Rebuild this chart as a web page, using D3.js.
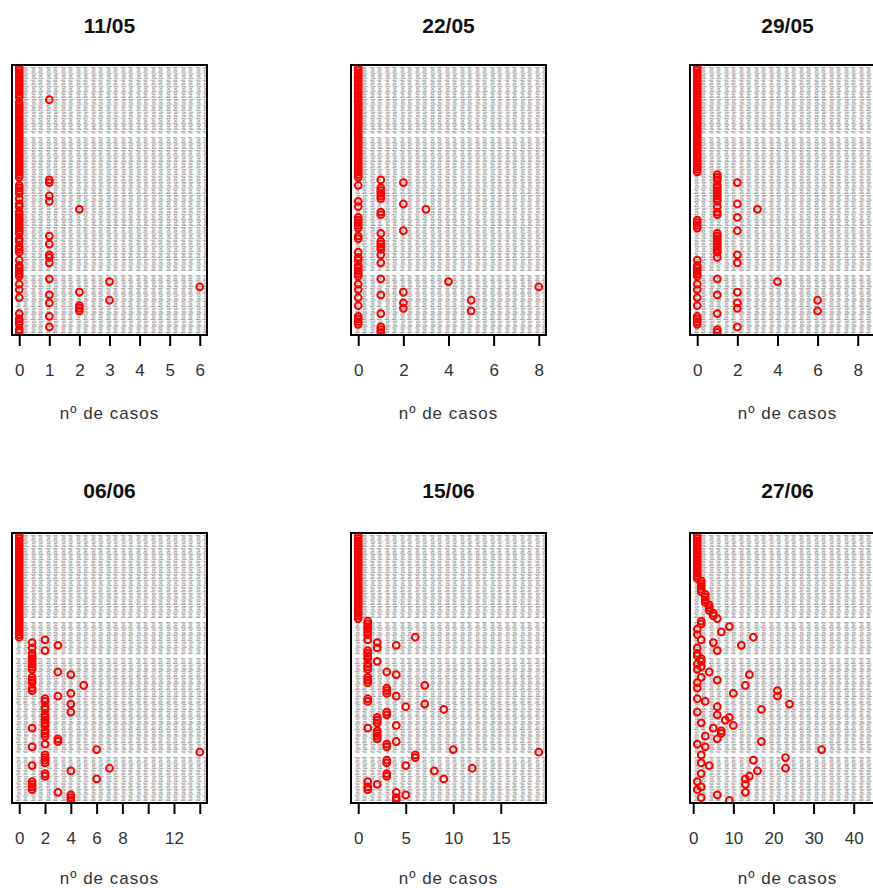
<!DOCTYPE html>
<html>
<head>
<meta charset="utf-8">
<script src="https://cdn.jsdelivr.net/npm/d3@7"></script>
<style>
    body { margin: 0; background: #ffffff; }
    text { font-family: "Liberation Sans", Arial, sans-serif; }
</style>
</head>
<body>
<div id="dotcharts"></div>
<script>
// one value per municipality (row), top row first
var titles = ["11/05", "22/05", "29/05", "06/06", "15/06", "27/06"];

var cases1105 = [
    0, 0, 0, 0, 0, 0, 0, 0, 0, 0,
    0, 0, 1, 0, 0, 0, 0, 0, 0, 0,
    0, 0, 0, 0, 0, 0, 0, 0, 0, 0,
    0, 0, 0, 0, 0, 0, 0, 0, 0, 0,
    0, 0, 1, 1, 0, 0, 0, 0, 1, 0,
    1, 0, 0, 2, 0, 0, 0, 0, 0, 0,
    0, 0, 0, 1, 0, 0, 1, 0, 0, 0,
    1, 1, 0, 1, 0, 0, 0, 0, 0, 1,
    3, 0, 6, 0, 2, 1, 0, 3, 1, 2,
    2, 2, 0, 1, 0, 0, 0, 1, 0, 0
];
var cases2205 = [
    0, 0, 0, 0, 0, 0, 0, 0, 0, 0,
    0, 0, 0, 0, 0, 0, 0, 0, 0, 0,
    0, 0, 0, 0, 0, 0, 0, 0, 0, 0,
    0, 0, 0, 0, 0, 0, 0, 0, 0, 0,
    0, 0, 1, 2, 0, 1, 1, 1, 1, 1,
    0, 2, 0, 3, 1, 1, 0, 0, 0, 0,
    0, 2, 1, 0, 0, 1, 1, 1, 1, 0,
    1, 0, 0, 1, 0, 0, 0, 0, 0, 1,
    4, 0, 8, 0, 2, 1, 0, 5, 2, 0,
    2, 5, 1, 0, 0, 0, 0, 1, 1, 1
];
var cases2905 = [
    0, 0, 0, 0, 0, 0, 0, 0, 0, 0,
    0, 0, 0, 0, 0, 0, 0, 0, 0, 0,
    0, 0, 0, 0, 0, 0, 0, 0, 0, 0,
    0, 0, 0, 0, 0, 0, 0, 0, 0, 0,
    1, 1, 1, 2, 1, 1, 1, 1, 1, 1,
    1, 2, 1, 3, 1, 1, 2, 0, 0, 0,
    0, 2, 1, 1, 1, 1, 1, 1, 1, 1,
    2, 1, 0, 2, 0, 0, 0, 0, 0, 1,
    4, 0, 9, 0, 2, 1, 0, 6, 2, 0,
    2, 6, 1, 0, 0, 0, 0, 2, 1, 1
];
var cases0606 = [
    0, 0, 0, 0, 0, 0, 0, 0, 0, 0,
    0, 0, 0, 0, 0, 0, 0, 0, 0, 0,
    0, 0, 0, 0, 0, 0, 0, 0, 0, 0,
    0, 0, 0, 0, 0, 0, 0, 0, 0, 2,
    1, 3, 1, 2, 1, 1, 1, 1, 1, 1,
    1, 3, 4, 1, 1, 1, 5, 1, 1, 4,
    3, 2, 2, 4, 2, 2, 4, 2, 2, 2,
    2, 2, 1, 2, 2, 2, 3, 3, 2, 1,
    6, 14, 2, 2, 2, 2, 1, 7, 4, 2,
    2, 6, 1, 1, 1, 1, 3, 4, 4, 4
];
var cases1506 = [
    0, 0, 0, 0, 0, 0, 0, 0, 0, 0,
    0, 0, 0, 0, 0, 0, 0, 0, 0, 0,
    0, 0, 0, 0, 0, 0, 0, 0, 0, 0,
    0, 0, 1, 1, 1, 1, 1, 1, 6, 1,
    2, 4, 2, 1, 1, 1, 1, 2, 1, 1,
    1, 3, 4, 1, 1, 1, 7, 3, 3, 3,
    4, 1, 1, 7, 5, 9, 3, 3, 2, 2,
    2, 4, 1, 2, 2, 2, 2, 4, 3, 3,
    10, 19, 6, 6, 3, 3, 5, 12, 8, 3,
    3, 9, 1, 2, 1, 1, 4, 5, 4, 4
];
var cases2706 = [
    1, 1, 1, 1, 1, 1, 1, 1, 1, 1,
    1, 1, 1, 1, 1, 1, 1, 2, 2, 2,
    2, 2, 3, 3, 3, 3, 4, 4, 4, 5,
    5, 6, 2, 2, 9, 1, 7, 1, 15, 2,
    5, 12, 1, 6, 1, 1, 2, 2, 1, 2,
    1, 4, 14, 2, 6, 1, 13, 1, 21, 10,
    21, 1, 3, 24, 6, 17, 1, 6, 9, 8,
    2, 10, 5, 7, 7, 3, 6, 17, 1, 3,
    32, 46, 2, 23, 15, 2, 4, 23, 16, 2,
    14, 13, 1, 13, 2, 1, 13, 6, 2, 9
];

var series = [cases1105, cases2205, cases2905, cases0606, cases1506, cases2706];

var tickValues = [
    [0, 1, 2, 3, 4, 5, 6],
    [0, 2, 4, 6, 8],
    [0, 2, 4, 6, 8],
    [0, 2, 4, 6, 8, 10, 12, 14],
    [0, 5, 10, 15],
    [0, 10, 20, 30, 40]
];
var tickLabels = [
    ["0", "1", "2", "3", "4", "5", "6"],
    ["0", "2", "4", "6", "8"],
    ["0", "2", "4", "6", "8"],
    ["0", "2", "4", "6", "8", "", "12", ""],
    ["0", "5", "10", "15"],
    ["0", "10", "20", "30", "40"]
];
var xLabel = "nº de casos";
var rowText = "pqbdpqbdpqbdpqbdpqbdpqbdpqbdpqbdpqbdpqbdpqbdpqbdpqbdpqbdpqbdpqbdpqbdpqbdpqbdpqbdpqbdpqbd";

var pageW = 873,
    panelW = 195,
    panelH = 270,
    panelLeft = [12, 351, 690],
    panelTop = [65, 533],
    titleY = [33, 498],
    xLabelY = [419, 884],
    textGaps = [[0.26, 0.77], [0.322, 0.456, 0.822]];

var svg = d3
    .select("#dotcharts")
    .append("svg")
    .attr("width", pageW)
    .attr("height", 888);

series.forEach(function (values, i) {
    var col = i % 3,
        row = Math.floor(i / 3);

    var ext = d3.extent(values),
        pad = (ext[1] - ext[0]) * 0.04;

    var x = d3
        .scaleLinear()
        .domain([ext[0] - pad, ext[1] + pad])
        .range([0, panelW]);

    var y = d3
        .scaleLinear()
        .domain([0, values.length + 1])
        .range([0, panelH]);

    var g = svg
        .append("g")
        .attr("transform", "translate(" + panelLeft[col] + "," + panelTop[row] + ")");

    g.append("clipPath")
        .attr("id", "clip" + i)
        .append("rect")
        .attr("width", panelW)
        .attr("height", panelH);

    var inner = g.append("g").attr("clip-path", "url(#clip" + i + ")");

    // grey columns of tiny row labels behind the points
    var cuts = [0].concat(textGaps[row]).concat([1]);
    var segments = [];
    for (var k = 0; k < cuts.length - 1; k++) {
        segments.push([cuts[k] * panelH + 1.5, cuts[k + 1] * panelH - 1.5]);
    }
    var columns = d3.range(7, panelW, 7.5).filter(function (cx) {
        return panelLeft[col] + cx + 3 < pageW;
    });
    columns.forEach(function (cx) {
        inner
            .append("g")
            .selectAll("text")
            .data(segments)
            .enter()
            .append("text")
            .attr("transform", function (d) {
                return "translate(" + (cx - 2.2) + "," + d[0] + ") rotate(90)";
            })
            .attr("textLength", function (d) {
                return d[1] - d[0];
            })
            .attr("lengthAdjust", "spacingAndGlyphs")
            .style("font-family", "DejaVu Sans Mono, monospace")
            .style("font-size", "6px")
            .style("font-weight", "bold")
            .style("fill", "#a6a6a6")
            .text(function (d) {
                return rowText.slice(0, Math.max(1, Math.floor((d[1] - d[0]) / 3.2)));
            });
    });

    inner
        .append("g")
        .selectAll("circle")
        .data(values)
        .enter()
        .append("circle")
        .attr("cx", function (d) {
            return x(d);
        })
        .attr("cy", function (d, j) {
            return y(j + 1);
        })
        .attr("r", 3.4)
        .style("fill", "none")
        .style("stroke", "#ff0000")
        .style("stroke-width", 2);

    g.append("rect")
        .attr("width", panelW)
        .attr("height", panelH)
        .style("fill", "none")
        .style("stroke", "#000")
        .style("stroke-width", 2);

    var axis = g
        .append("g")
        .attr("transform", "translate(0," + panelH + ")")
        .call(
            d3
                .axisBottom(x)
                .tickValues(tickValues[i])
                .tickFormat(function (d, k) {
                    return tickLabels[i][k];
                })
                .tickSize(11)
                .tickPadding(18)
        );
    axis.select(".domain").remove();
    axis.selectAll("line").style("stroke", "#000").style("stroke-width", 2);
    axis.selectAll("text")
        .style("font-family", "Liberation Sans, Arial, sans-serif")
        .style("font-size", "17px")
        .style("fill", "#333");

    g.append("text")
        .attr("x", panelW / 2)
        .attr("y", titleY[row] - panelTop[row])
        .attr("text-anchor", "middle")
        .style("font-size", "21px")
        .style("font-weight", "bold")
        .style("fill", "#111")
        .text(titles[i]);

    g.append("text")
        .attr("x", panelW / 2)
        .attr("y", xLabelY[row] - panelTop[row])
        .attr("text-anchor", "middle")
        .style("font-size", "17px")
        .style("letter-spacing", "1px")
        .style("fill", "#333")
        .text(xLabel);
});
</script>
</body>
</html>
